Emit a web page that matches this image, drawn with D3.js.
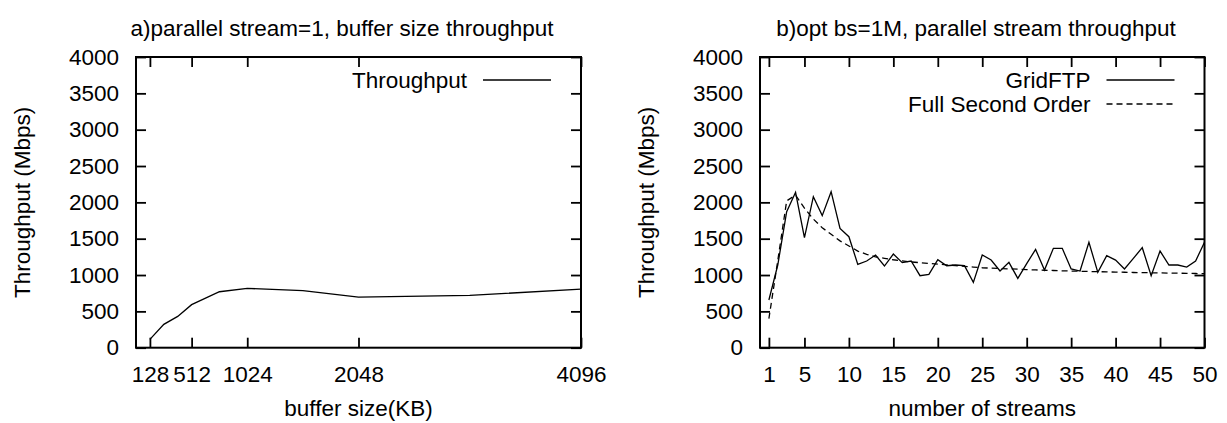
<!DOCTYPE html>
<html>
<head>
<meta charset="utf-8">
<script src="https://cdn.jsdelivr.net/npm/d3@7"></script>
<style>
  body { margin: 0; background: #fff; }
  svg { display: block; font-family: "Liberation Sans", Arial, sans-serif; }
  .frame { fill: none; stroke: #000; stroke-width: 2; }
  .tick line { stroke: #000; stroke-width: 1.8; }
  text { fill: #000; font-size: 22.5px; }
</style>
</head>
<body>
<svg id="chart" width="1227" height="423"></svg>
<script>
// a) buffer size sweep, one stream
var bufSizes = [128, 256, 384, 512, 768, 1024, 1536, 2048, 3072, 4096],
    bufThroughput = [114, 321, 431, 592, 770, 816, 784, 696, 720, 806],
    bufTicks = [128, 512, 1024, 2048, 4096];

// b) stream sweep, bs = 1M
var streams = [1, 2, 3, 4, 5, 6, 7, 8, 9, 10, 11, 12, 13, 14, 15, 16, 17, 18, 19, 20,
               21, 22, 23, 24, 25, 26, 27, 28, 29, 30, 31, 32, 33, 34, 35, 36, 37, 38, 39, 40,
               41, 42, 43, 44, 45, 46, 47, 48, 49, 50];
var gridftp = [656, 1138, 1872, 2138, 1514, 2078, 1817, 2147, 1642, 1527,
               1147, 1193, 1275, 1124, 1289, 1170, 1193, 991, 1009, 1211,
               1128, 1138, 1128, 899, 1275, 1206, 1055, 1174, 954, 1156,
               1353, 1069, 1367, 1367, 1083, 1055, 1450, 1037, 1266, 1206,
               1083, 1229, 1376, 991, 1330, 1138, 1138, 1110, 1193, 1450];
var secondOrder = [400, 1200, 2020, 2100, 1920, 1770, 1650, 1560, 1470, 1400,
                   1330, 1285, 1250, 1230, 1210, 1195, 1180, 1170, 1160, 1150,
                   1140, 1130, 1120, 1110, 1100, 1095, 1090, 1085, 1080, 1075,
                   1070, 1066, 1062, 1058, 1055, 1052, 1049, 1046, 1043, 1040,
                   1038, 1035, 1033, 1031, 1029, 1027, 1025, 1023, 1021, 1019];
var streamTicks = [1, 5, 10, 15, 20, 25, 30, 35, 40, 45, 50];
var yTicks = [0, 500, 1000, 1500, 2000, 2500, 3000, 3500, 4000];

var svg = d3.select("#chart");
svg.append("rect").attr("width", 1227).attr("height", 423).attr("fill", "#fff");

var top_ = 57, bottom = 347.7, tickLen = 10,
    fmt = d3.format("d");

function panel(opt) {
  var x = d3.scaleLinear().domain(opt.xDomain).range([opt.left, opt.right]);
  var y = d3.scaleLinear().domain([0, 4000]).range([bottom, top_]);
  var g = svg.append("g");

  // ticks on all four sides, pointing in
  g.append("g").attr("class", "tick")
    .attr("transform", `translate(0,${bottom})`)
    .call(d3.axisBottom(x).tickValues(opt.xTicks).tickFormat(fmt)
      .tickSizeInner(-tickLen).tickSizeOuter(0).tickPadding(tickLen + 8))
    .call(a => a.select(".domain").remove())
    .selectAll("text").attr("font-family", null);
  g.append("g").attr("class", "tick")
    .attr("transform", `translate(0,${top_})`)
    .call(d3.axisTop(x).tickValues(opt.xTicks).tickSizeInner(-tickLen).tickSizeOuter(0).tickFormat(""))
    .call(a => a.select(".domain").remove());
  g.append("g").attr("class", "tick")
    .attr("transform", `translate(${opt.left},0)`)
    .call(d3.axisLeft(y).tickValues(yTicks).tickFormat(fmt)
      .tickSizeInner(-tickLen).tickSizeOuter(0).tickPadding(tickLen + 7))
    .call(a => a.select(".domain").remove())
    .selectAll("text").attr("font-family", null);
  g.append("g").attr("class", "tick")
    .attr("transform", `translate(${opt.right},0)`)
    .call(d3.axisRight(y).tickValues(yTicks).tickSizeInner(-tickLen).tickSizeOuter(0).tickFormat(""))
    .call(a => a.select(".domain").remove());

  g.append("rect").attr("class", "frame")
    .attr("x", opt.left).attr("y", top_)
    .attr("width", opt.right - opt.left).attr("height", bottom - top_);

  // series
  opt.series.forEach(function(s) {
    var line = d3.line().x((d, i) => x(opt.xs[i])).y(d => y(d));
    g.append("path").datum(s.values)
      .attr("fill", "none").attr("stroke", "#000").attr("stroke-width", 1.3)
      .attr("stroke-dasharray", s.dash)
      .attr("d", line);
  });

  // legend
  opt.series.forEach(function(s, i) {
    var ly = 80 + i * 24;
    g.append("text").attr("x", opt.right - 114).attr("y", ly + 7.5)
      .attr("text-anchor", "end").text(s.name);
    g.append("line").attr("x1", opt.right - 98).attr("x2", opt.right - 30)
      .attr("y1", ly).attr("y2", ly)
      .attr("stroke", "#000").attr("stroke-width", 1.3).attr("stroke-dasharray", s.dash);
  });

  // titles
  svg.append("text").attr("x", opt.titleX).attr("y", 36)
    .attr("text-anchor", "middle").text(opt.title);
  svg.append("text").attr("x", (opt.left + opt.right) / 2).attr("y", 416)
    .attr("text-anchor", "middle").text(opt.xLabel);
  svg.append("text")
    .attr("transform", `translate(${opt.left - 106},${(top_ + bottom) / 2}) rotate(-90)`)
    .attr("text-anchor", "middle").text("Throughput (Mbps)");
}

panel({
  left: 136, right: 581, xDomain: [0, 4096], xTicks: bufTicks, xs: bufSizes,
  series: [{ name: "Throughput", values: bufThroughput, dash: null }],
  title: "a)parallel stream=1, buffer size throughput", titleX: 342,
  xLabel: "buffer size(KB)"
});

panel({
  left: 760, right: 1204.5, xDomain: [0, 50], xTicks: streamTicks, xs: streams,
  series: [
    { name: "GridFTP", values: gridftp, dash: null },
    { name: "Full Second Order", values: secondOrder, dash: "6,4" }
  ],
  title: "b)opt bs=1M, parallel stream throughput", titleX: 976,
  xLabel: "number of streams"
});
</script>
</body>
</html>
